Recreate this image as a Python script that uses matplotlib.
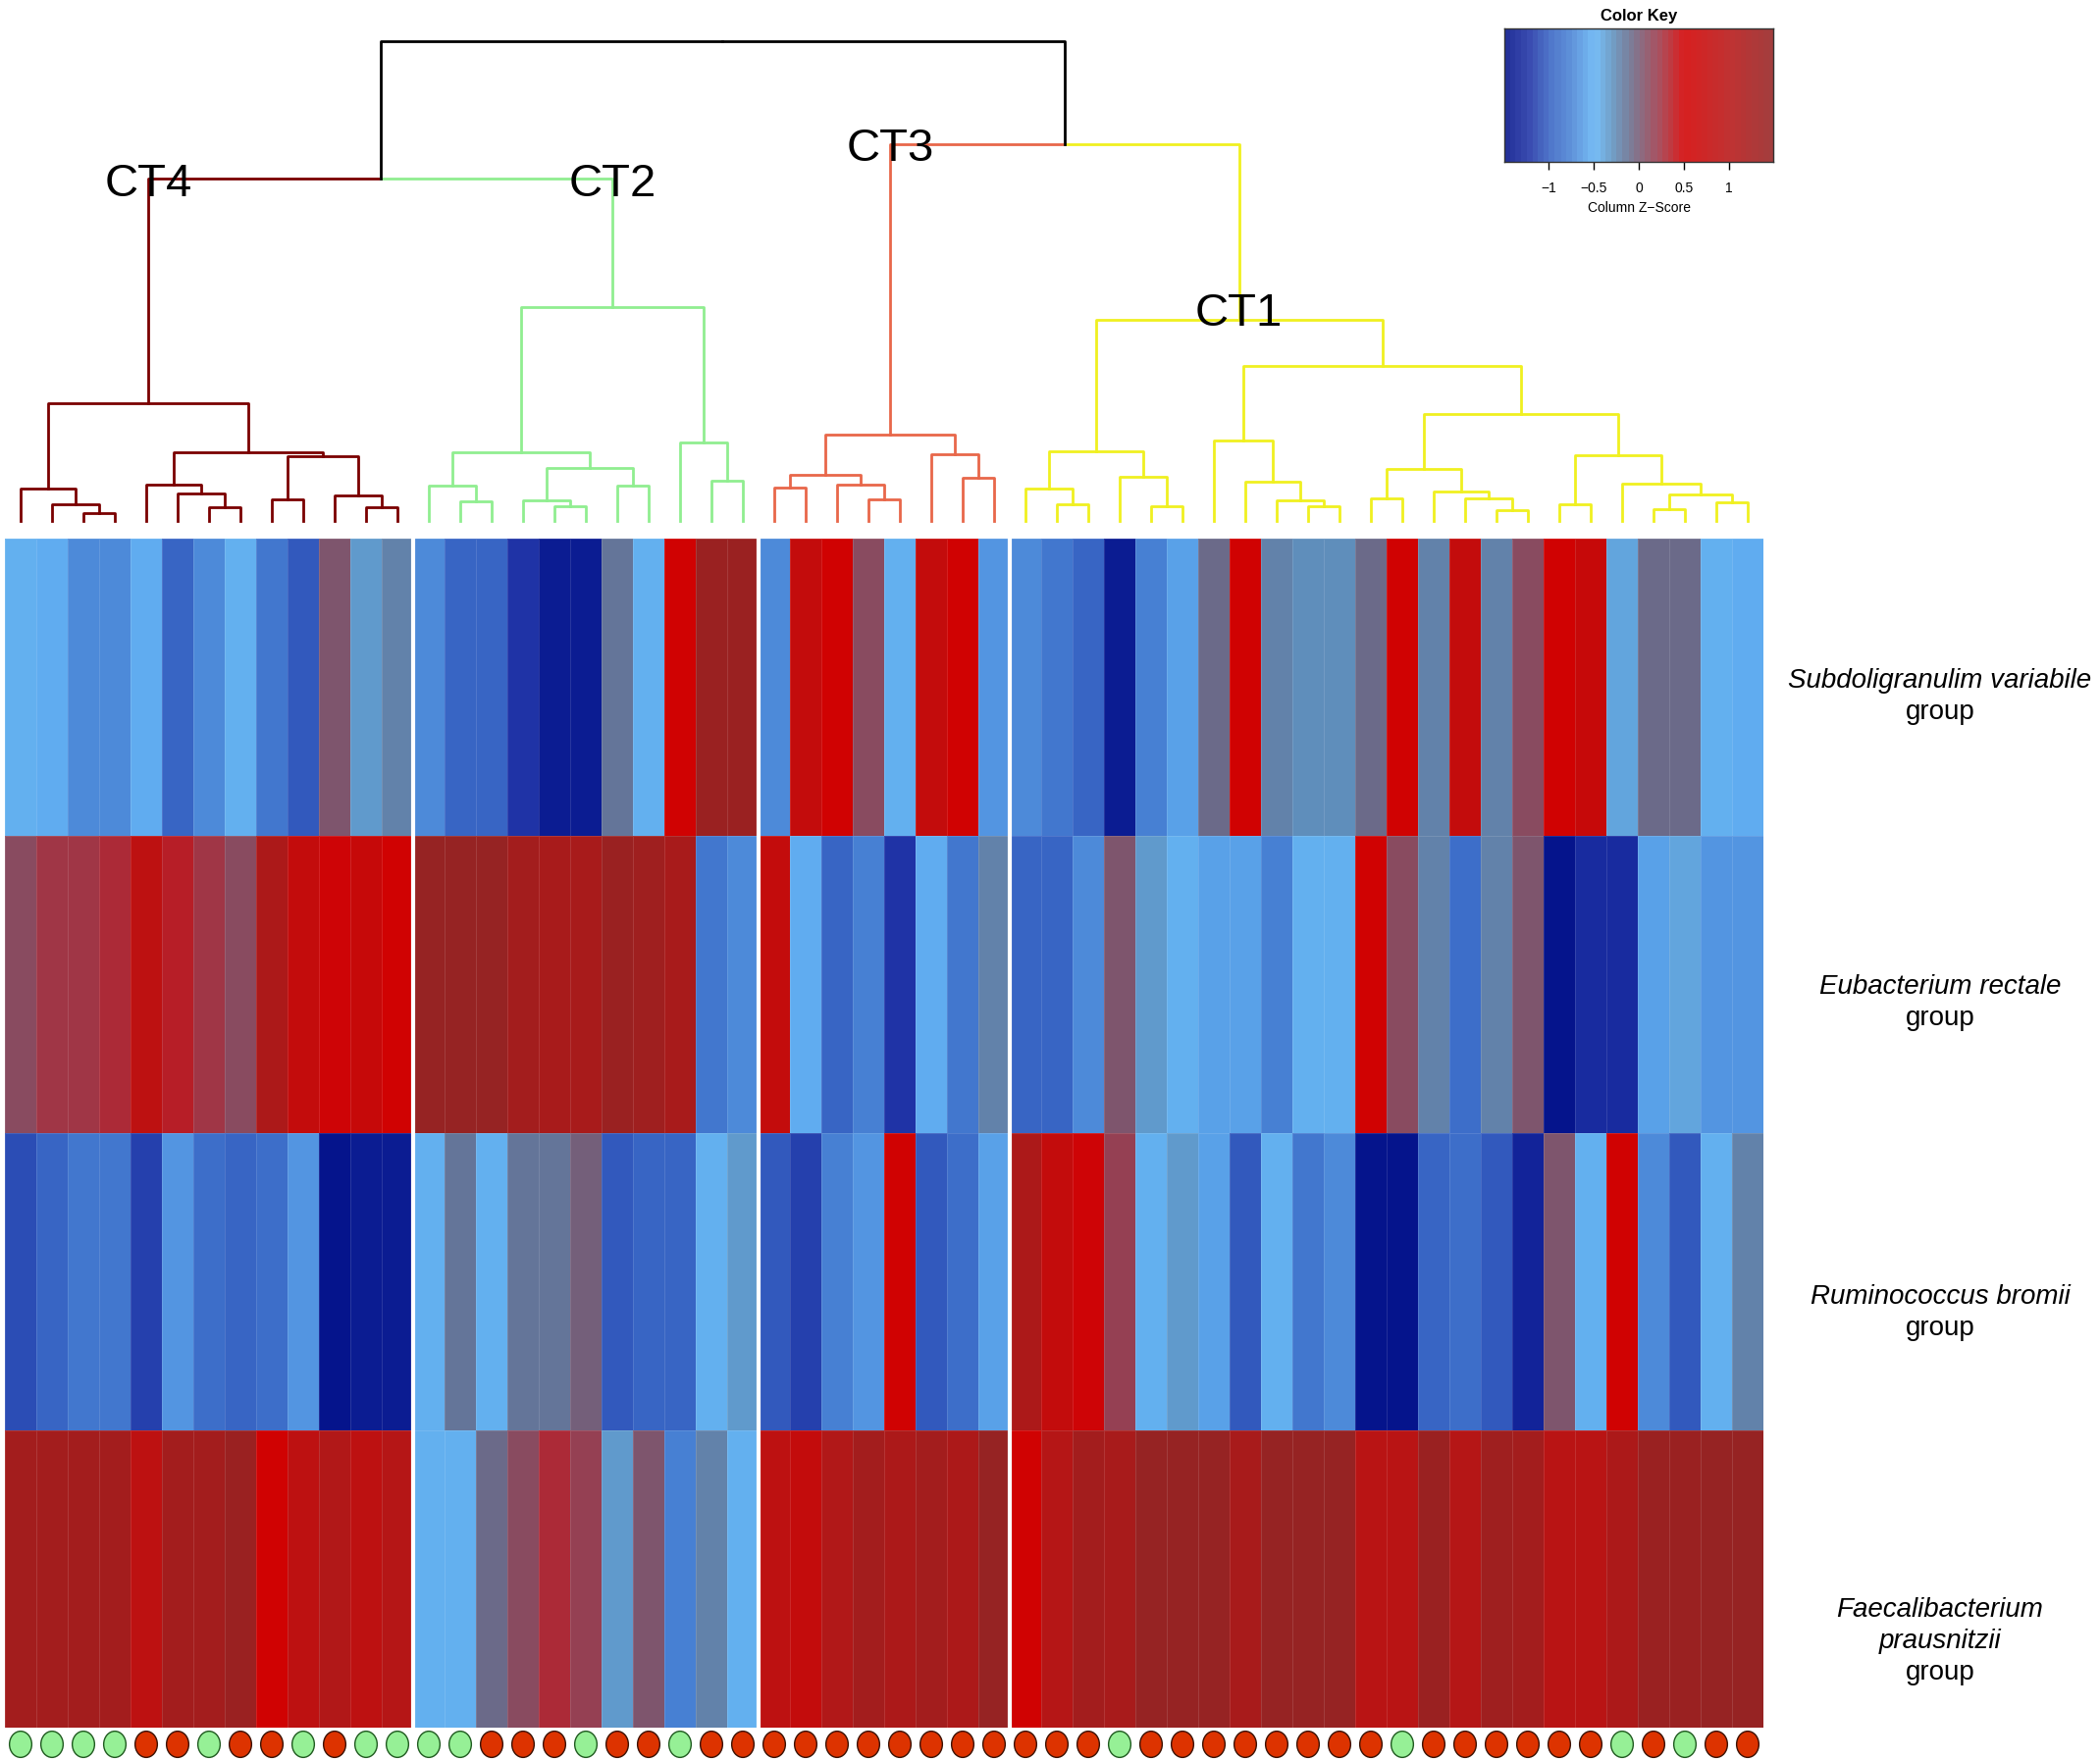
import numpy as np
import matplotlib
matplotlib.use("Agg")
import matplotlib.pyplot as plt
from matplotlib.colors import LinearSegmentedColormap
from matplotlib.path import Path
from matplotlib.transforms import Affine2D

plt.rcParams['font.family'] = ['Liberation Sans', 'DejaVu Sans']

# ---- data -------------------------------------------------------------
taxa = ["Subdoligranulim variabile", "Eubacterium rectale",
        "Ruminococcus bromii", "Faecalibacterium prausnitzii"]

# column z-scores, samples in dendrogram order (CT4 | CT2 | CT3 | CT1)
subdoligranulum = [-0.45, -0.55, -0.7, -0.75, -0.55, -0.95, -0.7, -0.5, -0.85, -1.05, 0.05, -0.35, -0.25,
                   -0.7, -0.95, -0.95, -1.25, -1.4, -1.4, -0.15, -0.5, 0.5, 1.4, 1.4,
                   -0.7, 0.75, 0.5, 0.1, -0.5, 0.8, 0.5, -0.65,
                   -0.7, -0.85, -0.95, -1.4, -0.8, -0.6, -0.12, 0.5, -0.2, -0.3, -0.3, -0.1,
                   0.5, -0.22, 0.8, -0.2, 0.12, 0.5, 0.7, -0.38, -0.1, -0.1, -0.5, -0.55]
eubacterium = [0.1, 0.22, 0.22, 0.27, 0.9, 0.35, 0.22, 0.08, 1.15, 0.8, 0.45, 0.7, 0.5,
               1.45, 1.45, 1.45, 1.3, 1.2, 1.2, 1.4, 1.35, 1.2, -0.85, -0.75,
               0.8, -0.55, -1.0, -0.8, -1.2, -0.55, -0.85, -0.25,
               -1.0, -0.95, -0.7, 0.02, -0.33, -0.5, -0.6, -0.58, -0.8, -0.48, -0.5, 0.5,
               0.1, -0.25, -0.9, -0.25, 0.0, -1.5, -1.3, -1.3, -0.6, -0.42, -0.65, -0.65]
ruminococcus = [-1.1, -0.95, -0.85, -0.85, -1.15, -0.65, -0.9, -0.95, -0.9, -0.65, -1.5, -1.4, -1.4,
                -0.45, -0.15, -0.5, -0.15, -0.15, -0.05, -1.05, -1.0, -1.0, -0.5, -0.35,
                -1.05, -1.15, -0.8, -0.65, 0.5, -1.05, -0.9, -0.6,
                1.15, 0.8, 0.45, 0.18, -0.48, -0.35, -0.6, -1.05, -0.5, -0.85, -0.72, -1.45,
                -1.55, -1.0, -0.9, -1.02, -1.35, 0.0, -0.48, 0.5, -0.72, -1.02, -0.45, -0.25]
faecalibacterium = [1.3, 1.3, 1.3, 1.3, 0.9, 1.3, 1.3, 1.4, 0.5, 0.9, 1.1, 0.9, 1.0,
                    -0.5, -0.45, -0.1, 0.1, 0.27, 0.18, -0.35, 0.02, -0.8, -0.25, -0.5,
                    0.9, 0.8, 1.1, 1.3, 1.15, 1.25, 1.15, 1.45,
                    0.5, 1.0, 1.25, 1.2, 1.45, 1.45, 1.45, 1.2, 1.45, 1.45, 1.45, 0.95,
                    0.95, 1.4, 1.0, 1.35, 1.3, 0.95, 0.95, 1.15, 1.4, 1.4, 1.45, 1.45]

# sample status under each column: G = green, R = red
sample_status = list("GGGGRRGRRGRGG" "GGRRRGRRGRR" "RRRRRRRR" "RRRGRRRRRRRRGRRRRRRGRGRR")

cluster_names = ["CT4", "CT2", "CT3", "CT1"]
cluster_sizes = [13, 11, 8, 24]

# dendrograms: [left, right, height], leaves are column indices
ct4_tree = [[0, [1, [2, 3, 0.16], 0.35], 0.67],
            [[4, [5, [6, 7, 0.29], 0.57], 0.76],
             [[8, 9, 0.45], [10, [11, 12, 0.29], 0.53], 1.35], 1.43], 2.45]
ct2_tree = [[[13, [14, 15, 0.41], 0.73],
             [[16, [17, 18, 0.31], 0.43], [19, 20, 0.73], 1.10], 1.43],
            [21, [22, 23, 0.84], 1.63], 4.45]
ct3_tree = [[[24, 25, 0.69], [26, [27, 28, 0.45], 0.76], 0.96],
            [29, [30, 31, 0.90], 1.39], 1.80]
ct1_tree = [[[32, [33, 34, 0.35], 0.67], [35, [36, 37, 0.31], 0.92], 1.45],
            [[38, [39, [40, [41, 42, 0.31], 0.43], 0.82], 1.67],
             [[[43, 44, 0.47], [45, [46, [47, 48, 0.22], 0.47], 0.61], 1.08],
              [[49, 50, 0.35], [51, [[52, 53, 0.24], [54, 55, 0.39], 0.55], 0.78], 1.37],
              2.22], 3.24], 4.20]
merge_ct4_ct2 = 7.14
merge_ct3_ct1 = 7.86
root_height = 10.0

# ---- style ------------------------------------------------------------
cluster_colors = {"CT4": "#7a0000", "CT2": "#90ee90", "CT3": "#e8674a", "CT1": "#f0f020"}
status_colors = {"G": "#96f096", "R": "#dd3300"}
status_edges = {"G": "#1f5a1f", "R": "#3a1000"}

cmap = LinearSegmentedColormap.from_list("zkey", [
    (0.000, (5/255, 20/255, 140/255)),
    (0.083, (30/255, 50/255, 165/255)),
    (0.167, (55/255, 100/255, 195/255)),
    (0.250, (75/255, 135/255, 215/255)),
    (0.333, (100/255, 180/255, 245/255)),
    (0.400, (95/255, 145/255, 190/255)),
    (0.450, (100/255, 115/255, 150/255)),
    (0.500, (120/255, 90/255, 115/255)),
    (0.583, (165/255, 50/255, 65/255)),
    (0.667, (210/255, 0/255, 0/255)),
    (0.833, (185/255, 20/255, 20/255)),
    (1.000, (150/255, 35/255, 35/255)),
], N=48)
vmin, vmax = -1.5, 1.5

W, H = 2140, 1795
fig = plt.figure(figsize=(W / 100, H / 100), dpi=100)


def px_box(x0, y0, x1, y1):
    return [x0 / W, 1 - y1 / H, (x1 - x0) / W, (y1 - y0) / H]


n_cols = len(sample_status)
data = np.array([subdoligranulum, eubacterium, ruminococcus, faecalibacterium])

# ---- heatmap ----------------------------------------------------------
ax_heat = fig.add_axes(px_box(5, 549, 1797, 1761))
ax_heat.pcolormesh(np.arange(n_cols + 1), np.arange(len(taxa) + 1), data,
                   cmap=cmap, vmin=vmin, vmax=vmax,
                   edgecolors=(1, 1, 1, 0.12), linewidth=0.5)
ax_heat.set_xlim(0, n_cols)
ax_heat.set_ylim(len(taxa), 0)
for b in np.cumsum(cluster_sizes)[:-1]:
    ax_heat.axvline(b, color="white", lw=3)
ax_heat.axis("off")

# row labels (species italic, "group" upright)
label_lines = [["Subdoligranulim variabile", "group"],
               ["Eubacterium rectale", "group"],
               ["Ruminococcus bromii", "group"],
               ["Faecalibacterium", "prausnitzii", "group"]]
first_baseline = [701, 1013, 1329, 1648]
for lines, y0 in zip(label_lines, first_baseline):
    for k, line in enumerate(lines):
        fig.text(1977 / W, 1 - (y0 + 32 * k) / H, line, ha="center", va="baseline",
                 fontsize=20, style="normal" if line == "group" else "italic")

# ---- status dots ------------------------------------------------------
ax_dots = fig.add_axes(px_box(5, 1761, 1797, 1795))
ell = Affine2D().scale(0.85, 1.0).transform_path(Path.unit_circle())
xs = np.arange(n_cols) + 0.5
ax_dots.scatter(xs, np.full(n_cols, 0.5), s=370, marker=ell,
                c=[status_colors[s] for s in sample_status],
                edgecolors=[status_edges[s] for s in sample_status], linewidths=1.0)
ax_dots.set_xlim(0, n_cols)
ax_dots.set_ylim(0, 1)
ax_dots.axis("off")

# ---- dendrogram -------------------------------------------------------
ax_dend = fig.add_axes(px_box(5, 0, 1797, 531))
ax_dend.set_xlim(0, n_cols)
ax_dend.set_ylim(0, 10.86)
ax_dend.axis("off")
LW = 2.0


def draw_tree(node, color):
    if isinstance(node, int):
        return node + 0.5, 0.0
    left, right, h = node
    xl, hl = draw_tree(left, color)
    xr, hr = draw_tree(right, color)
    ax_dend.plot([xl, xl, xr, xr], [hl, h, h, hr], color=color, lw=LW, clip_on=False)
    return (xl + xr) / 2, h


def link(child, px, ph, color):
    cx, ch = child
    ax_dend.plot([cx, cx, px], [ch, ph, ph], color=color, lw=LW, clip_on=False)


trees = {"CT4": ct4_tree, "CT2": ct2_tree, "CT3": ct3_tree, "CT1": ct1_tree}
tops = {name: draw_tree(trees[name], cluster_colors[name]) for name in cluster_names}

x_a = (tops["CT4"][0] + tops["CT2"][0]) / 2
x_b = (tops["CT3"][0] + tops["CT1"][0]) / 2
link(tops["CT4"], x_a, merge_ct4_ct2, cluster_colors["CT4"])
link(tops["CT2"], x_a, merge_ct4_ct2, cluster_colors["CT2"])
link(tops["CT3"], x_b, merge_ct3_ct1, cluster_colors["CT3"])
link(tops["CT1"], x_b, merge_ct3_ct1, cluster_colors["CT1"])
x_root = (x_a + x_b) / 2
link((x_a, merge_ct4_ct2), x_root, root_height, "black")
link((x_b, merge_ct3_ct1), x_root, root_height, "black")

label_height = {"CT4": merge_ct4_ct2 - 0.12, "CT2": merge_ct4_ct2 - 0.12,
                "CT3": merge_ct3_ct1 - 0.1, "CT1": tops["CT1"][1] + 0.12}
for name in cluster_names:
    ax_dend.text(tops[name][0], label_height[name], name, ha="center", va="center",
                 fontsize=34, color="black", zorder=5)

# ---- colour key -------------------------------------------------------
ax_key = fig.add_axes(px_box(1533, 29, 1807, 165))
key_vals = np.linspace(-1.49, 1.49, 200)
ax_key.pcolormesh(key_vals, [0, 1], key_vals[None, :-1], cmap=cmap, vmin=vmin, vmax=vmax,
                  alpha=0.88)
ax_key.set_xlim(-1.49, 1.49)
ax_key.set_ylim(0, 1)
ax_key.set_yticks([])
ax_key.set_xticks([-1, -0.5, 0, 0.5, 1])
ax_key.set_xticklabels(["\u22121", "\u22120.5", "0", "0.5", "1"])
ax_key.tick_params(axis="x", length=5.5, width=1, pad=9, labelsize=10)
ax_key.set_xlabel("Column Z\u2212Score", fontsize=10, labelpad=4)
ax_key.set_title("Color Key", fontsize=12, fontweight="bold", pad=6)
for sp in ax_key.spines.values():
    sp.set_color("#333333")
    sp.set_linewidth(1)

fig.savefig("out.png", dpi=100, facecolor="white")
